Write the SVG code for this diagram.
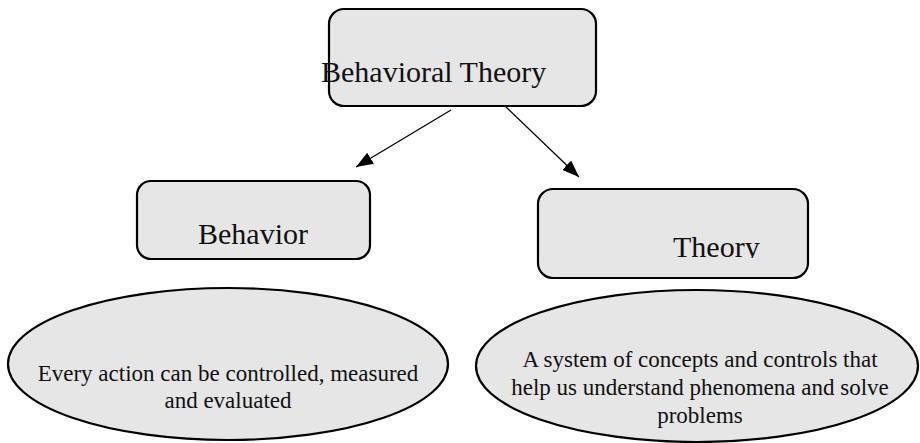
<svg xmlns="http://www.w3.org/2000/svg" width="920" height="443" viewBox="0 0 920 443">
<style>
  .box { fill: #e6e6e6; stroke: #000; stroke-width: 2.2; }
  .conn { stroke: #000; stroke-width: 1.3; fill: none; }
  .head { font-family: "Liberation Serif", "Times New Roman", serif; font-size: 30px; fill: #111; }
  .body { font-family: "Liberation Serif", "Times New Roman", serif; font-size: 23px; fill: #111; text-anchor: middle; }
</style>
<defs>
  <marker id="arrow" markerUnits="userSpaceOnUse" markerWidth="17" markerHeight="13" viewBox="0 0 17 13" refX="17" refY="6.5" orient="auto">
    <path d="M0,0 L17,6.5 L0,13 z" fill="#000"/>
  </marker>
  <clipPath id="theoryClip"><rect x="540" y="190" width="266" height="68"/></clipPath>
</defs>
<rect width="920" height="443" fill="#fff"/>
<g id="connectors">
  <line class="conn" x1="451" y1="110" x2="356" y2="167" marker-end="url(#arrow)"/>
  <line class="conn" x1="505" y1="106" x2="579" y2="177" marker-end="url(#arrow)"/>
</g>
<g id="node-behavioral-theory">
  <rect class="box" x="329" y="9" width="267" height="97" rx="15" ry="15"/>
  <text class="head" x="321" y="82">Behavioral Theory</text>
</g>
<g id="node-behavior">
  <rect class="box" x="137" y="181" width="233" height="78" rx="14" ry="14"/>
  <text class="head" x="198" y="244">Behavior</text>
</g>
<g id="node-theory">
  <rect class="box" x="538" y="189" width="270" height="89" rx="15" ry="15"/>
  <text class="head" x="673" y="257" clip-path="url(#theoryClip)">Theory</text>
</g>
<g id="node-behavior-def">
  <ellipse class="box" cx="228" cy="364" rx="220" ry="76"/>
  <text class="body" x="228" y="381">Every action can be controlled, measured</text>
  <text class="body" x="228" y="408">and evaluated</text>
</g>
<g id="node-theory-def">
  <ellipse class="box" cx="697" cy="366" rx="221" ry="76"/>
  <text class="body" x="700" y="367">A system of concepts and controls that</text>
  <text class="body" x="700" y="395">help us understand phenomena and solve</text>
  <text class="body" x="700" y="423">problems</text>
</g>
</svg>
